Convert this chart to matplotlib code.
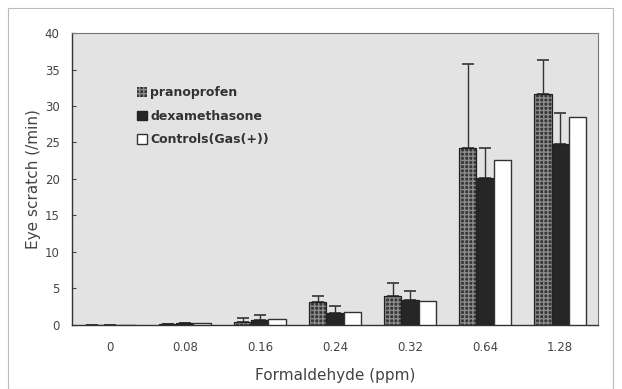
import numpy as np
import matplotlib
matplotlib.use("Agg")
import matplotlib.pyplot as plt
from matplotlib.patches import Rectangle

# 眼掻き回数 vs ホルムアルデヒド濃度
doses = ["0", "0.08", "0.16", "0.24", "0.32", "0.64", "1.28"]
prano = [0.0, 0.1, 0.4, 3.1, 3.9, 24.3, 31.7]
prano_err = [0.0, 0.0, 0.5, 0.9, 1.9, 11.5, 4.6]
dexa = [0.0, 0.3, 0.6, 1.6, 3.4, 20.1, 24.8]
dexa_err = [0.0, 0.0, 0.7, 1.0, 1.3, 4.2, 4.3]
ctrl = [0.0, 0.3, 0.8, 1.8, 3.2, 22.6, 28.5]

txt = "#444444"
fig = plt.figure(figsize=(6.22, 3.89), dpi=100)
ax = fig.add_axes([0.116, 0.165, 0.845, 0.75])
ax.set_facecolor("#e3e3e3")

x = np.arange(len(doses))
w = 0.23
# チェック柄は枠線なしで描いてから黒枠を重ねる
ax.bar(x - w, prano, w, color="#363636", edgecolor="#8c8c8c", hatch="++++", linewidth=0, zorder=2)
ax.bar(x - w, prano, w, fill=False, edgecolor="#222222", linewidth=0.9, zorder=3)
ax.bar(x, dexa, w, color="#262626", edgecolor="#222222", linewidth=0.9, zorder=3)
ax.bar(x + w, ctrl, w, color="white", edgecolor="#333333", linewidth=1.0, zorder=3)

ax.errorbar(x - w, prano, yerr=[np.zeros(len(x)), prano_err], fmt="none",
            ecolor="#333333", elinewidth=1.0, capsize=4, capthick=1.2, zorder=2.5)
ax.errorbar(x, dexa, yerr=[np.zeros(len(x)), dexa_err], fmt="none",
            ecolor="#333333", elinewidth=1.0, capsize=4, capthick=1.2, zorder=2.5)

ax.set_xlim(-0.5, len(doses) - 0.5)
ax.set_ylim(0, 40)
ax.set_yticks(range(0, 41, 5))
ax.set_xticks(x)
ax.set_xticklabels(doses)
ax.tick_params(axis="x", length=0, pad=12, labelsize=8.5, colors=txt)
ax.tick_params(axis="y", direction="in", length=3, pad=9, labelsize=8.5, colors=txt)
for s in ["left", "bottom"]:
    ax.spines[s].set_color("#333333")
    ax.spines[s].set_linewidth(1.0)
for s in ["top", "right"]:
    ax.spines[s].set_color("#777777")
    ax.spines[s].set_linewidth(0.8)

ax.set_xlabel("Formaldehyde (ppm)", fontsize=11, color=txt, labelpad=10)
ax.set_ylabel("Eye scratch (/min)", fontsize=11, color=txt, labelpad=3)

h1 = Rectangle((0, 0), 1, 1, facecolor="#363636", edgecolor="#8c8c8c", hatch="++++", linewidth=0)
h2 = Rectangle((0, 0), 1, 1, facecolor="#262626", edgecolor="#222222")
h3 = Rectangle((0, 0), 1, 1, facecolor="white", edgecolor="#333333")
leg = ax.legend([h1, h2, h3], ["pranoprofen", "dexamethasone", "Controls(Gas(+))"],
                loc="upper left", bbox_to_anchor=(0.113, 0.835), frameon=False,
                fontsize=9, handlelength=0.8, handleheight=0.8, handletextpad=0.3,
                labelspacing=0.85, borderaxespad=0)
for t in leg.get_texts():
    t.set_color("#333333")
    t.set_fontweight("semibold")

# 外枠
fig.patches.append(Rectangle((0.013, 0.0), 0.973, 0.98, transform=fig.transFigure,
                             fill=False, edgecolor="#bbbbbb", linewidth=0.8))

fig.savefig("out.png", dpi=100)
